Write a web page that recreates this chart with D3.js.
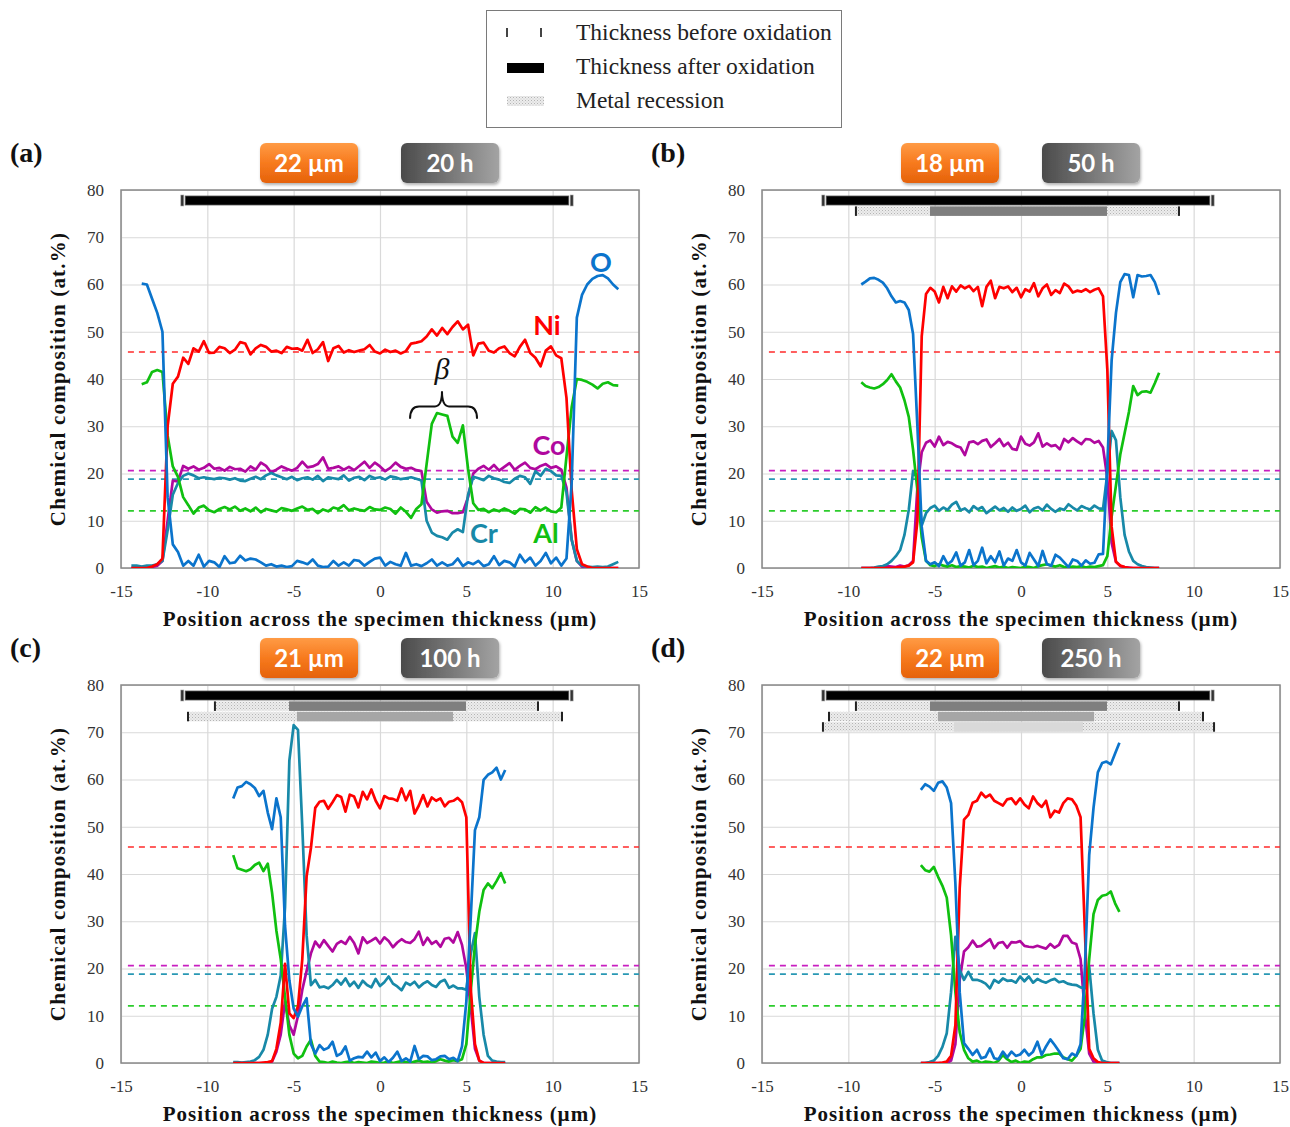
<!DOCTYPE html>
<html>
<head>
<meta charset="utf-8">
<script src="https://cdn.jsdelivr.net/npm/d3@7"></script>
<style>
  body { margin: 0; background: #fff; }
  svg { display: block; }
</style>
</head>
<body>
<div id="chart"></div>
<script>
// ---- data (positions in µm, compositions in at.%) ----
const elements = ["Co", "Cr", "Al", "Ni", "O"];

// nominal alloy composition (dashed lines)
const nominalNames = ["Ni", "Co", "Cr", "Al"];
const nominalValues = [45.7, 20.6, 18.8, 12.1];

const xTicks = [-15, -10, -5, 0, 5, 10, 15];
const yTicks = [0, 10, 20, 30, 40, 50, 60, 70, 80];

const thicknessLabels = ["22 µm", "18 µm", "21 µm", "22 µm"];
const timeLabels = ["20 h", "50 h", "100 h", "250 h"];
const panelTags = ["(a)", "(b)", "(c)", "(d)"];

// thickness bars (µm)
const afterOxidation = [-11.28, 10.93];
const beforeOxidation = [-11.45, 11.1];
// metal recession rows: [outer left, core left, core right, outer right]
const recessionRows = [
  [-9.56, -5.27, 4.98, 9.15],
  [-11.12, -4.81, 4.23, 10.54],
  [-11.47, -3.88, 3.59, 11.18]
];
const recessionCount = [0, 1, 2, 3];

// panel (a) 20 h
const posA = [-14.4,-14.1,-13.8,-13.5,-13.2,-12.9,-12.6,-12.3,-12.0,-11.7,
  -11.4,-11.1,-10.8,-10.5,-10.2,-9.9,-9.6,-9.3,-9.0,-8.7,
  -8.4,-8.1,-7.8,-7.5,-7.2,-6.9,-6.6,-6.3,-6.0,-5.7,
  -5.4,-5.1,-4.8,-4.5,-4.2,-3.9,-3.6,-3.3,-3.0,-2.7,
  -2.4,-2.1,-1.8,-1.5,-1.2,-0.9,-0.6,-0.3,0,0.3,
  0.6,0.9,1.2,1.5,1.8,2.1,2.4,2.7,3.0,3.3,
  3.6,3.9,4.2,4.5,4.8,5.1,5.4,5.7,6.0,6.3,
  6.6,6.9,7.2,7.5,7.8,8.1,8.4,8.7,9.0,9.3,
  9.6,9.9,10.2,10.5,10.8,11.1,11.4,11.7,12.0,12.3,
  12.6,12.9,13.2,13.5,13.8];
const niA = [0,0,0,0,0.3,0.8,2,30,39,40.5,
  44.5,43.2,46.5,45.8,48,45.5,45.6,46.8,46.5,45.5,
  46.2,47.8,47.5,45.2,46.5,47.2,46.8,45.8,46,45.5,
  46.8,46.4,46.5,46,48.3,45.5,46.3,47.8,43.8,46.5,
  47,45.6,46.1,45.7,46,46.3,47.2,45.8,45.4,46.2,
  45.7,46,45.4,45.9,47.5,47.7,48,49,50.5,49.2,
  50.8,49.5,51,52.2,50.5,51.5,45,47.5,47.7,46,
  45.6,46.5,46.9,45.5,44.8,46.8,48.3,45.5,44.5,42.7,
  46,46.9,45,44.4,36,16.5,4,0.8,0.3,0,
  0,0,0,0,0];
const coA = [0,0,0.2,0,0.2,0.5,1.5,10,18.5,18.3,
  21.6,21,21.5,20.8,21.2,22,21,21.2,20.6,21.4,
  20.9,21,20.4,21.5,20.8,22.3,21.6,20.2,20.8,21.5,
  21,20.6,21.2,22.5,21.3,21.5,22,23.4,21,21.2,
  21.5,20.8,21.4,20.7,21.6,22.5,21.2,22.3,21.5,20.5,
  21.2,22.3,21.4,21,21.2,20.7,20.5,14,12.4,11.7,
  12,12.1,11.6,11.6,11.8,15,20,21,21.6,20.8,
  21.8,20.6,21.4,22.2,20.8,21.6,22.3,21.2,20.9,21.6,
  22,21.2,21.5,20.8,17,6,1.5,0.3,0,0,
  0,0,0,0,0];
const crA = [0.5,0.5,0.3,0.5,0.5,0.8,1.5,8,15.5,18,
  19.5,20,19.6,19,19.2,19,18.8,19.1,19,18.7,
  19,18.5,18.4,18.9,19.3,18.8,19.6,20.1,19.6,19.2,
  18.8,19.3,18.6,19,19.2,18.7,19.5,18.4,19.2,19,
  18.8,19.6,18.5,19.1,19.3,18.6,19.5,19,19.2,18.7,
  19.4,19.2,18.8,19,19.2,18.9,18.5,10,7.5,6.8,
  6.5,6,7.5,8.2,7.6,15.5,19.3,19,18.6,19.5,
  19,18.7,18.2,18,18.9,19.5,19.2,17.8,20.5,19.5,
  21,20.5,19.6,19.5,16,6,1.5,0.5,0.3,0.2,
  0.3,0.2,0.3,0.8,1.3];
const alA = [null,null,38.9,39.3,41.5,41.9,41.5,28,21.5,19.3,
  15,13.3,11.5,12.8,13.2,12.2,11.8,12.5,12.9,12.4,
  13,12.1,12.6,12,12.8,11.8,12.5,12.2,11.9,12.7,
  12.4,12.1,12.6,13,12.3,12.5,11.6,12.4,12,12.8,
  12.5,13.3,12.2,12.6,12.3,12.1,12.9,12.4,12.3,12.8,
  12.5,11.5,12.8,11.9,10.6,12.5,13.5,22,30.5,32.8,
  32.5,32.2,27.8,26.5,30.2,21,13.7,12.3,12.5,11.8,
  12.4,12,12.6,12.1,11.5,12.5,12.4,11.7,12.9,12.2,
  12.8,12,11.8,12.8,23.6,34,40,39.8,39.4,38.8,
  38,39,39.3,38.7,38.6];
const oA = [null,null,60.2,60,57,54,50,15,5,3.4,
  0.5,1.5,0.5,2.8,0.3,1.5,1.2,0.2,2.5,1,
  1.2,2.6,1.6,2,1.8,1.2,0.5,0.8,0.3,0.5,
  0.2,0.4,1.5,1.2,0.8,1.8,0.5,0.2,0.3,1.5,
  0.5,1.2,0.5,1.7,1.5,0.5,1.3,2,2.2,0.5,
  1.3,0.8,0.5,3.2,0.5,0.8,0.4,1,1.8,0.5,
  1.2,0.5,0.8,2,0.4,1.2,0.8,1.5,0.4,0.8,
  2.5,0.6,1.5,1.2,0.3,2.8,1.2,2.2,0.5,1.5,
  3.2,1,2.2,0.5,2,18,53,57.8,60,61.2,
  61.8,62,61.3,60,59];

// panel (b) 50 h
const posB = [-9.25,-9,-8.75,-8.5,-8.25,-8,-7.75,-7.5,-7.25,-7,
  -6.75,-6.5,-6.25,-6,-5.75,-5.5,-5.25,-5,-4.75,-4.5,
  -4.25,-4,-3.75,-3.5,-3.25,-3,-2.75,-2.5,-2.25,-2,
  -1.75,-1.5,-1.25,-1,-0.75,-0.5,-0.25,0,0.25,0.5,
  0.75,1,1.25,1.5,1.75,2,2.25,2.5,2.75,3,
  3.25,3.5,3.75,4,4.25,4.5,4.75,5,5.25,5.5,
  5.75,6,6.25,6.5,6.75,7,7.25,7.5,7.75,8];
const niB = [0,0,0,0,0,0,0,0,0.1,0.2,
  0.3,0.5,1.2,10,49,58,59.3,58.5,56.2,59.5,
  57.1,59.6,58.5,59.8,59.2,59.7,58.6,59.5,55.4,59.5,
  60.8,57.1,59.5,59.2,59.6,58.4,59.3,57.3,59,58.5,
  60.3,57.5,59.2,60,57.8,58.8,58.2,60.2,59.6,58.3,
  58.7,58.5,59,58.4,58.9,59.2,57.5,42,8.7,1.3,
  0.5,0.2,0,0,0,0,0,0,0,0];
const coB = [0,0,0,0,0,0.2,0.4,0.3,0.2,0.5,
  0.3,0.6,1.5,17,24.5,26.5,27,25.7,27.8,26,
  26.7,26.4,25.8,25.5,23.9,26.6,26.8,26.2,26.9,27.2,
  25.6,26.4,27.3,25.8,26.5,25.2,25,27.8,26.3,25.9,
  26.6,28.5,25.7,26.4,25.8,26,25.1,27.3,26.6,27.5,
  26.8,26.2,27.3,27.2,26.5,26.9,25.5,19,5.3,1.3,
  0.4,0.2,0.1,0,0,0,0,0,0,0];
const crB = [0,0,0,0.1,0.3,0.4,0.8,1.5,2.5,3.8,
  7,12.3,20.5,19,9,11.6,12.7,13.2,12.1,12.8,
  12.3,13.4,14,12.2,12.6,11.8,13.1,12.4,12.9,11.6,
  12.3,13,12.2,12.7,11.9,12.8,12.1,12.5,13.2,11.8,
  12.6,12.9,12.2,13.4,12.5,11.9,12.6,12.3,13.5,12.8,
  12.2,13.1,12.7,12.4,13.2,12.6,12.5,20,29,27,
  15,7,3.5,1.5,0.8,0.4,0.2,0.1,0,0];
const alB = [39.3,38.5,38.2,38,38.3,38.9,39.8,41,39.5,38.2,
  35.5,32,25,16.5,6.5,1.5,0.6,0.4,0.8,0.5,
  0.3,0.6,0.2,0.4,0.3,0.1,0.5,0.2,0.3,0,
  0.2,0.4,0.1,0.3,0,0.2,0.1,0,0.3,0.2,
  0,0.4,0.6,0.8,0.5,0.3,0.6,0.2,0.1,0.3,
  0.2,0.4,0.1,0.3,0.2,0.4,0.6,2.5,10.9,17.5,
  24,28.5,33,38.5,36.6,37.3,37.4,37.1,39.1,41.3];
const oB = [60,60.6,61.3,61.4,61,60.4,59.2,57.5,56.2,56.5,
  56.2,54.6,49.5,30,8.7,1.5,0.8,1.2,0.4,2.5,
  0.8,1.5,3.3,0.5,1.2,3.8,0.6,1.5,4.3,1,
  2.5,1.2,3.5,0.5,2,1.5,3.8,1.2,0.5,3.2,
  1.8,0.4,3.6,0.8,0.5,2.8,2.2,1.2,0.2,1.8,
  1.5,0.5,1.6,0.9,1.1,2.9,3,22,44,54,
  60.5,62.2,62,57.3,62,61.7,61.8,62,60.5,57.8];

// panel (c) 100 h
const posC = [-8.5,-8.25,-8,-7.75,-7.5,-7.25,-7,-6.75,-6.5,-6.25,
  -6,-5.75,-5.5,-5.25,-5,-4.75,-4.5,-4.25,-4,-3.75,
  -3.5,-3.25,-3,-2.75,-2.5,-2.25,-2,-1.75,-1.5,-1.25,
  -1,-0.75,-0.5,-0.25,0,0.25,0.5,0.75,1,1.25,
  1.5,1.75,2,2.25,2.5,2.75,3,3.25,3.5,3.75,
  4,4.25,4.5,4.75,5,5.25,5.5,5.75,6,6.25,
  6.5,6.75,7,7.25];
const niC = [0,0,0,0,0,0,0,0.1,0.2,0.4,
  3,8.5,21,10.5,9.5,12,22,39.5,45.5,54,
  55.3,55.5,53.8,55.2,56.7,56.3,53.2,56.8,56.4,54.1,
  57.4,55.8,57.9,55.5,53.9,56.5,56,55.9,55.5,58.1,
  55.6,57.6,52.8,54.5,56.7,54.3,56.2,55.5,56,54.3,
  55.3,55.5,56.1,55.2,52,16,4,0.5,0,0,
  0,0,0,0];
const coC = [0,0,0,0,0,0,0,0,0,0.3,
  2.4,6,13,8,6,10,15.5,19.5,23.2,25.7,
  24.5,26,24.8,23.6,25.2,25.8,25.2,26.7,25.4,23.2,
  26.6,25.4,25.9,26.5,25.3,26.6,25.8,24.5,25.5,26.2,
  25.6,25.4,26.2,27.8,25,26.5,25.2,25.8,24.6,26.3,
  26.5,25.5,27.7,25,20,12,3,0.5,0,0,
  0,0,0,0];
const crC = [0.2,0.2,0.1,0.2,0.3,0.6,1.3,2.8,6,11.5,
  14,18.5,33,64,71.5,70.5,50,27,16.5,17.6,
  16,16.2,15.8,16.5,17.6,16.6,17.9,16.3,17.2,15.9,
  17.4,16.5,16,17.8,16.3,17.1,18.3,16.8,16.2,15.4,
  17,16.5,17.2,16,16.8,17.3,16.5,16.1,17.2,17.6,
  15.9,16.4,15.8,15.8,15.5,23,27.5,14,6,1.5,
  0.5,0.3,0.2,0.2];
const alC = [44,41.2,40.9,40.6,41,41.9,42.4,40.6,42.2,36,
  28,22,14,6,2,1,1.5,3.5,4.9,1.5,
  0.3,0.2,0,0.3,0.1,0,0.2,0.3,0,0.2,
  0.1,0,0.3,0.2,0,0.1,0.3,0,0.2,0.4,
  0.2,0,0.3,0.5,0.2,0.3,0.1,0.4,0.8,0.5,
  0.3,0.6,0.4,0.8,4,15,25,32,36.6,38,
  37,38.5,40.2,38];
const oC = [56,58.3,58.6,59.5,59,58.2,56.5,57.6,53,49.5,
  56,52,29,17.5,11.5,9.8,12,13.7,4,2,
  3.8,2.8,3.2,4.5,1.5,2,3.5,0.5,1,1.3,
  1.2,2.4,1.2,2.2,0.4,1.2,0.2,1.1,2.4,0.4,
  1,0.3,3.6,0.8,1.5,1.4,0.6,0.8,1.4,1.5,
  0.8,1.1,0.4,3.5,13,30.3,49.3,52,59.9,61,
  61.5,62.5,60,62];

// panel (d) 250 h
const posD = [-5.8,-5.55,-5.3,-5.05,-4.8,-4.55,-4.3,-4.05,-3.8,-3.55,
  -3.3,-3.05,-2.8,-2.55,-2.3,-2.05,-1.8,-1.55,-1.3,-1.05,
  -0.8,-0.55,-0.3,-0.05,0.2,0.45,0.7,0.95,1.2,1.45,
  1.7,1.95,2.2,2.45,2.7,2.95,3.2,3.45,3.7,3.95,
  4.2,4.45,4.7,4.95,5.2,5.45,5.7];
const niD = [0,0,0,0,0,0.1,0.3,1.5,8,37,
  51.5,52.5,55.1,55.5,57.2,56.2,56.8,55.5,55,54.5,
  55.8,56,54.8,56,54.7,53.9,56.4,55,54.2,55.5,
  52,53.4,53,55,56,55.8,54.5,52,28,3,
  1,0.2,0,0,0,0,0];
const coD = [0,0,0,0,0,0,0,0.5,4,17.6,
  23.6,24.5,25.9,24.6,24.8,25.5,26.2,24.3,25.4,25.6,
  24.4,25.6,25.5,25.8,24.8,24.6,24.5,24.8,24.5,24.2,
  25.2,24.4,25,26.9,26.9,25.5,25.2,22,10.5,2,
  0.3,0,0,0,0,0,0];
const crD = [0,0,0.2,0.5,1.5,3.4,6.3,15,26.7,19.7,
  17.6,19.3,17.6,17.6,17.3,16.8,15.8,17.6,17,17.9,
  17.4,17.5,17,18.3,17.3,18.3,17,17.8,17.3,17,
  17.5,17.8,17.1,17.3,16.8,16.6,16.5,16,15.8,20.4,
  10.5,2.8,0.5,0.2,0,0,0];
const alD = [41.9,40.8,40.5,41.5,39.4,37.5,35,27,15,6.5,
  2.8,1,0.3,0.5,0,0.3,0.2,0,0.5,1.7,
  0.8,0.2,0.5,0,0.3,0.2,0.8,1.2,1.2,1.7,
  1.8,2,2,1.2,0.8,0.5,1.5,3,10,22,
  31.5,34.5,35.4,35.6,36.3,33.8,32];
const oD = [57.8,59,58.5,57.6,59.3,59.6,58.3,55,38,15,
  4.2,3,1.7,2.8,1,1.3,3.1,1,0.8,2.4,
  1.2,2.4,1.5,1.8,2.8,1.6,2.4,4.5,1.7,3.5,
  5,3.8,2.5,1,0.8,2,1.5,4,20,44,
  54,61.5,63.5,63.8,63.2,65.5,67.8];

// ---- styles & layout ----
const colors = { Ni: "#ff0000", Co: "#b0089e", Cr: "#1889a8", Al: "#10c010", O: "#0b74cc" };
const dashColors = { Ni: "#ff2a2a", Co: "#c81ec0", Cr: "#2898b4", Al: "#2ccc2c" };
const coreFills = ["#7f7f7f", "#a6a6a6", "#d9d9d9"];
const serif = "'Liberation Serif', 'Times New Roman', serif";
const sans = "Lato, 'Open Sans', sans-serif";

const panels = [
  { left: 121, top: 190, pos: posA, data: { Ni: niA, Co: coA, Cr: crA, Al: alA, O: oA } },
  { left: 762, top: 190, pos: posB, data: { Ni: niB, Co: coB, Cr: crB, Al: alB, O: oB } },
  { left: 121, top: 685, pos: posC, data: { Ni: niC, Co: coC, Cr: crC, Al: alC, O: oC } },
  { left: 762, top: 685, pos: posD, data: { Ni: niD, Co: coD, Cr: crD, Al: alD, O: oD } }
];
const pw = 518, ph = 378;

const svg = d3.select("#chart").append("svg")
  .attr("width", 1290)
  .attr("height", 1127)
  .style("font-family", serif);

const defs = svg.append("defs");

// dotted texture for metal recession
const pat = defs.append("pattern")
  .attr("id", "recession")
  .attr("width", 3).attr("height", 3)
  .attr("patternUnits", "userSpaceOnUse");
pat.append("rect").attr("width", 3).attr("height", 3).attr("fill", "#ececec");
pat.append("rect").attr("width", 1).attr("height", 1).attr("fill", "#b4b4b4");
pat.append("rect").attr("x", 1.5).attr("y", 1.5).attr("width", 1).attr("height", 1).attr("fill", "#cacaca");

const og = defs.append("linearGradient").attr("id", "orangeGrad")
  .attr("x1", 0).attr("y1", 0).attr("x2", 0).attr("y2", 1);
og.append("stop").attr("offset", 0).attr("stop-color", "#ff9b45");
og.append("stop").attr("offset", 0.5).attr("stop-color", "#f77a1e");
og.append("stop").attr("offset", 1).attr("stop-color", "#e5620a");

const gg = defs.append("linearGradient").attr("id", "greyGrad")
  .attr("x1", 0).attr("y1", 0).attr("x2", 1).attr("y2", 0);
gg.append("stop").attr("offset", 0).attr("stop-color", "#4b4b4b");
gg.append("stop").attr("offset", 1).attr("stop-color", "#a3a3a3");

const shadow = defs.append("filter").attr("id", "shadow")
  .attr("x", "-10%").attr("y", "-10%").attr("width", "130%").attr("height", "140%");
shadow.append("feDropShadow").attr("dx", 1).attr("dy", 2)
  .attr("stdDeviation", 1.5).attr("flood-opacity", 0.3);

// ---- legend ----
const legend = svg.append("g").attr("transform", "translate(486,10)");
legend.append("rect")
  .attr("x", 0.5).attr("y", 0.5).attr("width", 355).attr("height", 117)
  .attr("fill", "#fff").attr("stroke", "#7a7a7a");
[21, 55].forEach(px => legend.append("rect")
  .attr("x", px - 1).attr("y", 18).attr("width", 2).attr("height", 9)
  .attr("fill", "#444"));
legend.append("rect").attr("x", 21).attr("y", 53).attr("width", 37).attr("height", 10).attr("fill", "#000");
legend.append("rect").attr("x", 21).attr("y", 86).attr("width", 37).attr("height", 10).attr("fill", "url(#recession)");
const legendText = ["Thickness before oxidation", "Thickness after oxidation", "Metal recession"];
legend.selectAll("text.lg").data(legendText).enter().append("text")
  .attr("x", 90).attr("y", (d, i) => 30 + i * 34)
  .style("font-size", "23.5px").style("fill", "#222")
  .text(d => d);

// ---- panels ----
panels.forEach((p, pi) => {
  const x = d3.scaleLinear().domain([-15, 15]).range([p.left, p.left + pw]);
  const y = d3.scaleLinear().domain([0, 80]).range([p.top + ph, p.top]);
  const g = svg.append("g");

  // grid + ticks
  const xAxis = g.append("g")
    .attr("transform", `translate(0,${p.top + ph})`)
    .call(d3.axisBottom(x).tickValues(xTicks).tickSize(-ph).tickPadding(17).tickFormat(d => String(d)));
  const yAxis = g.append("g")
    .attr("transform", `translate(${p.left},0)`)
    .call(d3.axisLeft(y).tickValues(yTicks).tickSize(-pw).tickPadding(17).tickFormat(d => String(d)));
  [xAxis, yAxis].forEach(a => {
    a.select(".domain").remove();
    a.selectAll("line").attr("stroke", "#d9d9d9").attr("stroke-width", 1.2);
    a.selectAll("text").style("font-family", serif).style("font-size", "17px").attr("fill", "#333");
  });

  g.append("rect")
    .attr("x", p.left).attr("y", p.top).attr("width", pw).attr("height", ph)
    .attr("fill", "none").attr("stroke", "#888").attr("stroke-width", 1.5);

  // nominal composition
  nominalNames.forEach((n, i) => {
    g.append("line")
      .attr("x1", x(-14.6)).attr("x2", x(15))
      .attr("y1", y(nominalValues[i])).attr("y2", y(nominalValues[i]))
      .attr("stroke", dashColors[n]).attr("stroke-width", 1.6)
      .attr("stroke-dasharray", "6,5");
  });

  // profiles
  const clipId = "clip" + pi;
  defs.append("clipPath").attr("id", clipId)
    .append("rect").attr("x", p.left).attr("y", p.top - 2).attr("width", pw).attr("height", ph + 2);
  const line = d3.line()
    .defined(d => d[1] != null)
    .x(d => x(d[0])).y(d => y(d[1]));
  const lines = g.append("g").attr("clip-path", `url(#${clipId})`);
  elements.forEach(el => {
    const pts = p.pos.map((v, i) => [v, p.data[el][i]]);
    lines.append("path")
      .datum(pts)
      .attr("d", line)
      .attr("fill", "none")
      .attr("stroke", colors[el])
      .attr("stroke-width", 2.7)
      .attr("stroke-linejoin", "round");
  });

  // thickness bars
  const barTop = p.top + 6;
  g.append("rect")
    .attr("x", x(afterOxidation[0])).attr("y", barTop)
    .attr("width", x(afterOxidation[1]) - x(afterOxidation[0])).attr("height", 9)
    .attr("fill", "#000").attr("stroke", "#555").attr("stroke-width", 0.8);
  beforeOxidation.forEach(v => g.append("rect")
    .attr("x", x(v) - 1.5).attr("y", barTop - 1).attr("width", 3).attr("height", 11)
    .attr("fill", "#333").attr("stroke", "#aaa").attr("stroke-width", 0.6));

  recessionRows.slice(0, recessionCount[pi]).forEach((r, k) => {
    const ry = barTop + 10.4 * (k + 1);
    g.append("rect")
      .attr("x", x(r[0])).attr("y", ry)
      .attr("width", x(r[3]) - x(r[0])).attr("height", 9.5)
      .attr("fill", "url(#recession)");
    g.append("rect")
      .attr("x", x(r[1])).attr("y", ry)
      .attr("width", x(r[2]) - x(r[1])).attr("height", 9.5)
      .attr("fill", coreFills[k]);
    [r[0], r[3]].forEach(v => g.append("rect")
      .attr("x", x(v) - 1).attr("y", ry).attr("width", 2).attr("height", 9.5)
      .attr("fill", "#222"));
  });

  // axis titles
  g.append("text")
    .attr("transform", `translate(${p.left - 63},${p.top + ph / 2}) rotate(-90)`)
    .attr("text-anchor", "middle").attr("dy", "0.35em")
    .style("font-size", "21px").style("font-weight", "bold").attr("fill", "#111")
    .style("letter-spacing", "1.2px")
    .text("Chemical composition (at.%)");
  g.append("text")
    .attr("x", p.left + pw / 2).attr("y", p.top + ph + 58)
    .attr("text-anchor", "middle")
    .style("font-size", "21px").style("font-weight", "bold").attr("fill", "#111")
    .style("letter-spacing", "1px")
    .text("Position across the specimen thickness (µm)");

  // panel tag
  g.append("text")
    .attr("x", p.left - 111).attr("y", p.top - 28)
    .style("font-size", "28px").style("font-weight", "bold").attr("fill", "#111")
    .text(panelTags[pi]);

  // badges
  const cx = p.left + pw / 2;
  [[thicknessLabels[pi], "url(#orangeGrad)", -71], [timeLabels[pi], "url(#greyGrad)", 70]].forEach(b => {
    const bg = g.append("g").attr("transform", `translate(${cx + b[2]},${p.top - 27})`);
    bg.append("rect")
      .attr("x", -49).attr("y", -20).attr("width", 98).attr("height", 40)
      .attr("rx", 6).attr("fill", b[1]).attr("filter", "url(#shadow)");
    bg.append("text")
      .attr("text-anchor", "middle").attr("dy", "0.36em")
      .style("font-family", sans).style("font-size", "24px").style("font-weight", "bold")
      .attr("fill", "#fff")
      .text(b[0]);
  });

  // annotations for panel (a)
  if (pi === 0) {
    const labels = [
      ["O", 12.8, 64.8, "O"], ["Ni", 9.67, 51.4, "Ni"], ["Co", 9.79, 26, "Co"],
      ["Cr", 6.02, 7.4, "Cr"], ["Al", 9.61, 7.4, "Al"]
    ];
    labels.forEach(l => g.append("text")
      .attr("x", x(l[1])).attr("y", y(l[2]))
      .attr("text-anchor", "middle").attr("dy", "0.36em")
      .style("font-family", sans).style("font-size", "27px").style("font-weight", "bold")
      .attr("fill", colors[l[0]])
      .text(l[3]));
    g.append("text")
      .attr("x", x(3.59)).attr("y", y(42.3))
      .attr("text-anchor", "middle").attr("dy", "0.36em")
      .style("font-size", "30px").style("font-style", "italic").attr("fill", "#111")
      .text("β");
    const bx0 = x(1.74), bx1 = x(5.62), bm = x(3.59);
    const by0 = y(31.6), by1 = y(34.2), by2 = y(37.4);
    g.append("path")
      .attr("d", `M${bx0},${by0} Q${bx0},${by1} ${bx0 + 9},${by1} L${bm - 7},${by1} Q${bm},${by1} ${bm},${by2}
                  Q${bm},${by1} ${bm + 7},${by1} L${bx1 - 9},${by1} Q${bx1},${by1} ${bx1},${by0}`)
      .attr("fill", "none").attr("stroke", "#111").attr("stroke-width", 2);
  }
});
</script>
</body>
</html>
